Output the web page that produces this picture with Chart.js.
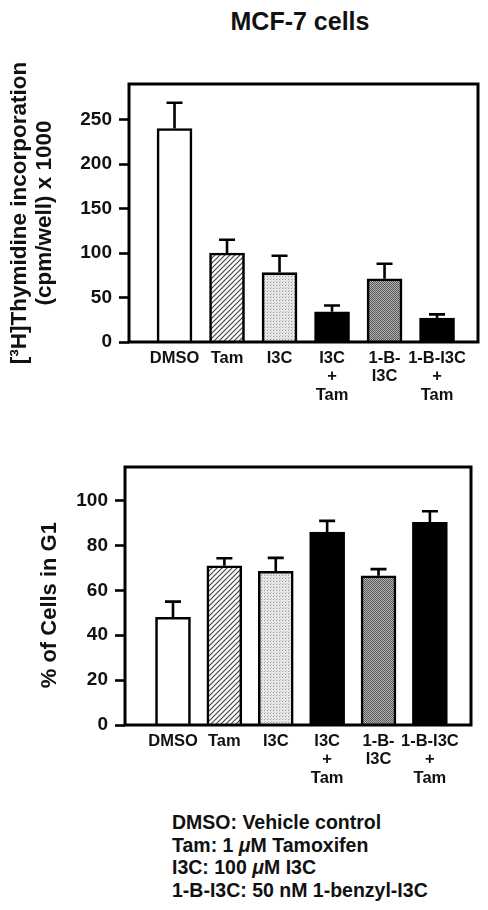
<!DOCTYPE html>
<html>
<head>
<meta charset="utf-8">
<script src="https://cdn.jsdelivr.net/npm/chart.js@4.4.1/dist/chart.umd.min.js"></script>
<style>
  html, body { margin: 0; padding: 0; background: #fff; }
  body { width: 488px; height: 910px; position: relative; overflow: hidden; font-family: "Liberation Sans", Arial, sans-serif; color: #111; }
  #title { position: absolute; left: 300px; top: 9px; transform: translateX(-50%); font-size: 25px; font-weight: bold; line-height: 25px; white-space: nowrap; }
  #c1 { position: absolute; left: 0; top: 0; }
  #c2 { position: absolute; left: 0; top: 440px; }
  #notes { position: absolute; left: 172px; top: 811px; font-size: 19.5px; font-weight: bold; line-height: 22.5px; white-space: nowrap; }
</style>
</head>
<body>
<div id="title">MCF-7 cells</div>
<canvas id="c1" width="488" height="420"></canvas>
<canvas id="c2" width="488" height="360"></canvas>
<div id="notes">
  <div>DMSO: Vehicle control</div>
  <div>Tam: 1 <i>μ</i>M Tamoxifen</div>
  <div>I3C: 100 <i>μ</i>M I3C</div>
  <div>1-B-I3C: 50 nM 1-benzyl-I3C</div>
</div>
<script>
// ---- data ----
const categories = [["DMSO"], ["Tam"], ["I3C"], ["I3C", "+", "Tam"], ["1-B-", "I3C"], ["1-B-I3C", "+", "Tam"]];
const thymidine = [240, 100, 78, 34, 71, 27];
const thymidineErr = [29, 15, 19, 7, 17, 4];
const g1Percent = [48, 71, 68.5, 86, 66.5, 90.3];
const g1Err = [7, 3.3, 6, 5, 3, 5];
const topTicks = [0, 50, 100, 150, 200, 250];
const bottomTicks = [0, 20, 40, 60, 80, 100];
const positions = [1, 2, 3, 4, 5, 6];

// ---- patterns ----
function makePattern(kind) {
  const c = document.createElement('canvas');
  const ctx = c.getContext('2d');
  if (kind === 'hatch') {
    c.width = 5; c.height = 5;
    ctx.fillStyle = '#fff'; ctx.fillRect(0, 0, 5, 5);
    ctx.strokeStyle = '#444'; ctx.lineWidth = 1.2;
    ctx.beginPath();
    ctx.moveTo(-1, 6); ctx.lineTo(6, -1);
    ctx.moveTo(-1, 1); ctx.lineTo(1, -1);
    ctx.moveTo(4, 6); ctx.lineTo(6, 4);
    ctx.stroke();
  } else if (kind === 'light') {
    c.width = 3; c.height = 3;
    ctx.fillStyle = '#e8e8e8'; ctx.fillRect(0, 0, 3, 3);
    ctx.fillStyle = '#9a9a9a'; ctx.fillRect(0, 0, 1, 1);
    ctx.fillStyle = '#c4c4c4'; ctx.fillRect(1, 2, 1, 1);
  } else if (kind === 'dark') {
    c.width = 2; c.height = 2;
    ctx.fillStyle = '#b0b0b0'; ctx.fillRect(0, 0, 2, 2);
    ctx.fillStyle = '#5a5a5a'; ctx.fillRect(0, 0, 1, 1); ctx.fillRect(1, 1, 1, 1);
  }
  return document.createElement('canvas').getContext('2d').createPattern(c, 'repeat');
}
const fills = ['#ffffff', makePattern('hatch'), makePattern('light'), '#000000', makePattern('dark'), '#000000'];

// ---- plugins ----
const frameAndErrors = {
  id: 'frameAndErrors',
  afterDatasetsDraw(chart, args, opts) {
    const ctx = chart.ctx;
    const a = chart.chartArea;
    const ys = chart.scales.y;
    const meta = chart.getDatasetMeta(0);
    const vals = chart.data.datasets[0].data;
    const errs = opts.errors;
    ctx.save();
    ctx.strokeStyle = '#000';
    ctx.lineWidth = 2.6;
    meta.data.forEach((bar, i) => {
      const yTop = ys.getPixelForValue(vals[i].y + errs[i]);
      ctx.beginPath();
      ctx.moveTo(bar.x, bar.y);
      ctx.lineTo(bar.x, yTop);
      ctx.moveTo(bar.x - 8, yTop);
      ctx.lineTo(bar.x + 8, yTop);
      ctx.stroke();
    });
    ctx.lineWidth = 3;
    ctx.strokeRect(a.left, a.top, a.right - a.left, a.bottom - a.top);
    ctx.restore();
  }
};

function build(canvasId, values, errs, yMax, yTicks, yTitle, titleSize, titlePad, xMin, xMax, pad, yWidth, xHeight) {
  return new Chart(document.getElementById(canvasId), {
    type: 'bar',
    data: {
      datasets: [{
        data: positions.map((p, i) => ({ x: p, y: values[i] })),
        backgroundColor: fills,
        borderColor: '#000',
        borderWidth: 2.6,
        barThickness: 35
      }]
    },
    options: {
      responsive: false,
      animation: false,
      events: [],
      layout: { padding: pad },
      plugins: {
        legend: { display: false },
        tooltip: { enabled: false },
        frameAndErrors: { errors: errs }
      },
      scales: {
        x: {
          type: 'linear',
          offset: false,
          min: xMin, max: xMax,
          afterBuildTicks: s => { s.ticks = positions.map(v => ({ value: v })); },
          afterFit: s => { s.height = xHeight; },
          grid: { display: false, drawTicks: false, offset: false },
          border: { display: false },
          ticks: {
            padding: 7,
            color: '#111',
            font: { family: 'Liberation Sans', size: 16.5, weight: 'bold', lineHeight: 1.12 },
            maxRotation: 0, autoSkip: false,
            callback: v => categories[v - 1]
          }
        },
        y: {
          min: 0, max: yMax,
          afterBuildTicks: s => { s.ticks = yTicks.map(v => ({ value: v })); },
          afterFit: s => { s.width = yWidth; },
          grid: { drawOnChartArea: false, drawTicks: true, tickLength: 10, tickWidth: 2.6, tickColor: '#000' },
          border: { display: false },
          ticks: {
            padding: 7,
            color: '#111',
            font: { family: 'Liberation Sans', size: 19, weight: 'bold' }
          },
          title: {
            display: true,
            text: yTitle,
            color: '#111',
            padding: { top: titlePad, bottom: 0 },
            font: { family: 'Liberation Sans', size: titleSize, weight: 'bold', lineHeight: 1.13 }
          }
        }
      }
    },
    plugins: [frameAndErrors]
  });
}

build('c1', thymidine, thymidineErr, 290, topTicks,
  ['[³H]Thymidine incorporation', '(cpm/well) x 1000'], 22.5, 7,
  0.133, 6.78, { left: 0, right: 10, top: 84, bottom: 0 }, 129, 78);

build('c2', g1Percent, g1Err, 115, bottomTicks,
  '% of Cells in G1   ', 22, 38,
  0.066, 6.8, { left: 0, right: 17, top: 27, bottom: 0 }, 125, 75);
</script>
</body>
</html>
